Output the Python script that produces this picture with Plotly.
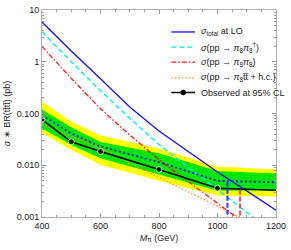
import plotly.graph_objects as go

# ---------------- data ----------------
mass_theory = [400, 500, 600, 700, 800, 900, 1000, 1100, 1200]
sigma_total_lo = [5.86, 1.61, 0.468, 0.133, 0.0457, 0.018, 0.00738, 0.0032, 0.00135]
sigma_pair_dagger = [3.79, 1.0, 0.277, 0.0805, 0.0252, 0.00917, 0.0033, 0.00122, 0.00045]
sigma_pair_same = [1.98, 0.477, 0.124, 0.0385, 0.0128, 0.0048, 0.00184, 0.0007, 0.00028]
sigma_single_tt = [0.062, 0.036, 0.021, 0.0110, 0.0058, 0.0030, 0.0016, 0.00085, 0.00045]

mass_limit = [400, 500, 600, 800, 1000, 1200]
observed = [0.076, 0.0284, 0.0184, 0.0083, 0.0036, 0.0033]
observed_marker = [True, True, True, True, True, False]
expected = [0.093, 0.041, 0.023, 0.0115, 0.005, 0.0047]
green_up = [0.12, 0.054, 0.028, 0.017, 0.0077, 0.0069]
green_dn = [0.052, 0.0245, 0.0137, 0.0067, 0.0032, 0.0033]
yellow_up = [0.17, 0.07, 0.038, 0.021, 0.0095, 0.0083]
yellow_dn = [0.042, 0.020, 0.0102, 0.005, 0.0026, 0.0025]

exp_limit_mass = 1034
exp_limit_xsec = 0.0048
obs_limit_mass = 1077
obs_limit_xsec = 0.0034
y_floor = 0.001

y_tickvals = [0.001, 0.01, 0.1, 1, 10]
y_ticktext = ["0.001", "0.010", "0.100", "1", "10"]
x_tickvals = [400, 600, 800, 1000, 1200]

legend_labels = [
    "<i>σ</i><sub>total</sub> at LO",
    "<i>σ</i>(pp → <i>π</i><sub>8</sub><i>π</i><sub>8</sub><sup>†</sup>)",
    "<i>σ</i>(pp → <i>π</i><sub>8</sub><i>π</i><sub>8</sub>)",
    "<i>σ</i>(pp → <i>π</i><sub>8</sub>t̄t̄ + h.c.)",
    "Observed at 95% CL",
]

# ---------------- styles ----------------
FONT = "Liberation Sans, Arial, sans-serif"
C_BLUE = "#1010ff"
C_CYAN = "#00f0f0"
C_RED = "#ff1010"
C_ORANGE = "#ff8c1a"
C_GREEN = "#00e600"
C_YELLOW = "#ffff00"
C_EXP = "#2a2ad8"
D_CYAN = "5px,3px"
D_RED = "5px,2px,1.5px,2px"
D_ORANGE = "1.5px,2px"
D_EXP = "2px,2.5px"
D_VERT = "5px,2px"

fig = go.Figure()

# yellow band
fig.add_trace(go.Scatter(x=mass_limit, y=yellow_up, mode="lines", line=dict(width=0),
                         showlegend=False, hoverinfo="skip"))
fig.add_trace(go.Scatter(x=mass_limit, y=yellow_dn, mode="lines", line=dict(width=0),
                         fill="tonexty", fillcolor=C_YELLOW, showlegend=False, hoverinfo="skip"))
# green band
fig.add_trace(go.Scatter(x=mass_limit, y=green_up, mode="lines", line=dict(width=0),
                         showlegend=False, hoverinfo="skip"))
fig.add_trace(go.Scatter(x=mass_limit, y=green_dn, mode="lines", line=dict(width=0),
                         fill="tonexty", fillcolor=C_GREEN, showlegend=False, hoverinfo="skip"))

# theory curves
fig.add_trace(go.Scatter(x=mass_theory, y=sigma_single_tt, mode="lines",
                         line=dict(color=C_ORANGE, width=1.3, dash=D_ORANGE), showlegend=False))
fig.add_trace(go.Scatter(x=mass_theory, y=sigma_pair_same, mode="lines",
                         line=dict(color=C_RED, width=1.3, dash=D_RED), showlegend=False))
fig.add_trace(go.Scatter(x=mass_theory, y=sigma_pair_dagger, mode="lines",
                         line=dict(color=C_CYAN, width=1.4, dash=D_CYAN), showlegend=False))
fig.add_trace(go.Scatter(x=mass_theory, y=sigma_total_lo, mode="lines",
                         line=dict(color=C_BLUE, width=1.3), showlegend=False))

# expected and observed
fig.add_trace(go.Scatter(x=mass_limit, y=expected, mode="lines",
                         line=dict(color=C_EXP, width=2, dash=D_EXP), showlegend=False))
fig.add_trace(go.Scatter(x=mass_limit, y=observed, mode="lines+markers",
                         line=dict(color="black", width=1.5),
                         marker=dict(color="black", size=[6 if m else 0 for m in observed_marker]),
                         showlegend=False))

# limit lines
fig.add_trace(go.Scatter(x=[exp_limit_mass, exp_limit_mass], y=[exp_limit_xsec, y_floor], mode="lines",
                         line=dict(color="#3030ff", width=2, dash=D_VERT), showlegend=False))
fig.add_trace(go.Scatter(x=[obs_limit_mass, obs_limit_mass], y=[obs_limit_xsec, y_floor], mode="lines",
                         line=dict(color=C_RED, width=1.5, dash=D_VERT), showlegend=False))

# ---------------- manual legend ----------------
L, R, T, B = 42, 12, 5, 33
W, H = 291, 250
pw, ph = W - L - R, H - T - B


def px2paper(px, py):
    return (px - L) / pw, (H - B - py) / ph


legend_styles = [
    dict(color=C_BLUE, dash="solid", width=1.3),
    dict(color=C_CYAN, dash=D_CYAN, width=1.4),
    dict(color=C_RED, dash=D_RED, width=1.3),
    dict(color=C_ORANGE, dash=D_ORANGE, width=1.3),
    dict(color="black", dash="solid", width=1.5),
]
rows_py = [27.5, 43, 58.3, 74.5, 89.5]
shapes = []
annotations = []
for lab, sty, py in zip(legend_labels, legend_styles, rows_py):
    x0, y0 = px2paper(173, py)
    x1, _ = px2paper(197, py)
    shapes.append(dict(type="line", xref="paper", yref="paper", x0=x0, x1=x1, y0=y0, y1=y0,
                       line=sty))
    tx, _ = px2paper(201, py)
    annotations.append(dict(xref="paper", yref="paper", x=tx, y=y0, text=lab, showarrow=False,
                            xanchor="left", yanchor="middle",
                            font=dict(family=FONT, size=9, color="#222")))
# marker for observed in legend
cx, cy = px2paper(185, rows_py[-1])
shapes.append(dict(type="circle", xref="paper", yref="paper",
                   x0=cx - 2.8 / pw, x1=cx + 2.8 / pw, y0=cy - 2.8 / ph, y1=cy + 2.8 / ph,
                   fillcolor="black", line=dict(color="black", width=0)))

axis_common = dict(showline=True, linecolor="#b0b0b0", linewidth=1, mirror="ticks",
                   ticks="inside", ticklen=4, tickcolor="#999", showgrid=False, zeroline=False,
                   tickfont=dict(family=FONT, size=9, color="#222"))

fig.update_layout(
    width=W, height=H,
    margin=dict(l=L, r=R, t=T, b=B),
    paper_bgcolor="white", plot_bgcolor="white",
    font=dict(family=FONT, size=9, color="#222"),
    showlegend=False,
    shapes=shapes,
    annotations=annotations,
    xaxis=dict(range=[400, 1200], tickvals=x_tickvals,
               minor=dict(ticks="inside", ticklen=2, dtick=50, tickcolor="#999"),
               title=dict(text="<i>M</i><sub>π</sub> (GeV)", standoff=4,
                          font=dict(family=FONT, size=9, color="#222")),
               **axis_common),
    yaxis=dict(type="log", range=[-3, 1], tickvals=y_tickvals, ticktext=y_ticktext,
               minor=dict(ticks="inside", ticklen=2, dtick="D1", tickcolor="#999"),
               title=dict(text="<i>σ</i> ∗ BR(tt̄tt̄) (pb)", standoff=4,
                          font=dict(family=FONT, size=9, color="#222")),
               **axis_common),
)

fig.write_html("out.html", config={"displayModeBar": False},
               post_script="document.body.style.margin='0';")
